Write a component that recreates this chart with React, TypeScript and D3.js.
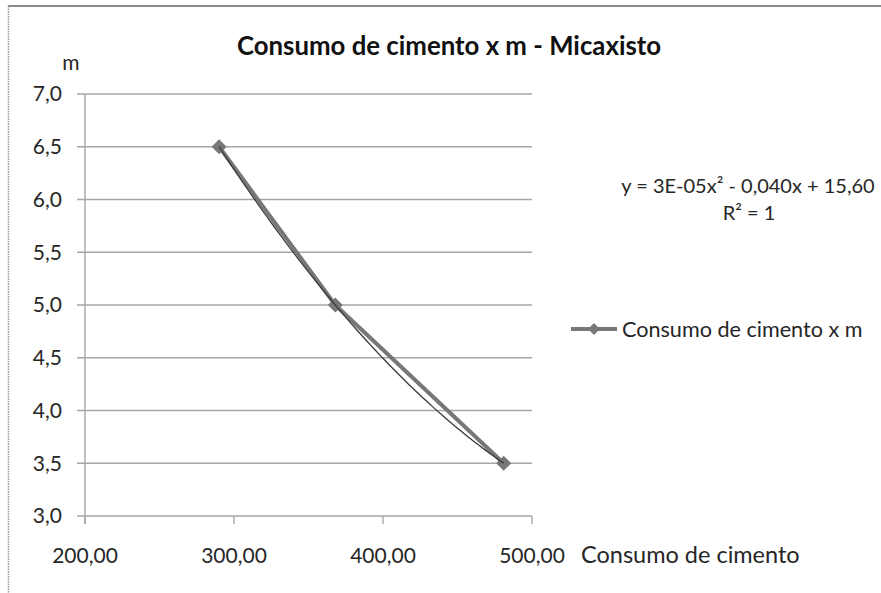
import React from "react";
import * as d3 from "d3";

const cementConsumption = [290, 368, 481];
const mValues = [6.5, 5.0, 3.5];
const xTickValues = [200, 300, 400, 500];
const yTickValues = [3.0, 3.5, 4.0, 4.5, 5.0, 5.5, 6.0, 6.5, 7.0];
const chartTitle = "Consumo de cimento x m - Micaxisto";
const seriesName = "Consumo de cimento x m";
const xAxisTitle = "Consumo de cimento";
const yAxisTitle = "m";
const equationLines = ["y = 3E-05x² - 0,040x + 15,60", "R² = 1"];

const W = 881;
const H = 593;
const FONT = "Lato, 'Open Sans', sans-serif";

export default function App() {
  const x = d3.scaleLinear().domain([200, 500]).range([85, 532]);
  const y = d3.scaleLinear().domain([3, 7]).range([516, 94]);

  const pts = cementConsumption.map((c, i) => [c, mValues[i]] as [number, number]);

  // quadratic trendline through the data (Lagrange form, R² = 1)
  const quad = (v: number) => {
    let s = 0;
    for (let i = 0; i < pts.length; i++) {
      let term = pts[i][1];
      for (let j = 0; j < pts.length; j++) {
        if (j !== i) term *= (v - pts[j][0]) / (pts[i][0] - pts[j][0]);
      }
      s += term;
    }
    return s;
  };
  const xMin = d3.min(cementConsumption) as number;
  const xMax = d3.max(cementConsumption) as number;
  const trendX = d3.range(0, 61).map((k) => xMin + ((xMax - xMin) * k) / 60);
  const trendPath = d3
    .line<number>()
    .x((v) => x(v))
    .y((v) => y(quad(v)))(trendX) as string;

  const seriesPath = d3
    .line<[number, number]>()
    .x((d) => x(d[0]))
    .y((d) => y(d[1]))(pts) as string;

  const fmtY = (v: number) => d3.format(".1f")(v).replace(".", ",");
  const fmtX = (v: number) => d3.format(".2f")(v).replace(".", ",");

  const diamond = (cx: number, cy: number, r: number) =>
    `M${cx},${cy - r}L${cx + r},${cy}L${cx},${cy + r}L${cx - r},${cy}Z`;

  const [x0, x1] = x.range();
  const [yBottom, yTop] = y.range();

  return (
    <svg
      width={W}
      height={H}
      style={{ position: "absolute", left: 0, top: 0, background: "#fff" }}
      fontFamily={FONT}
    >
      <rect x={0} y={0} width={W} height={H} fill="#fff" />
      {/* chart frame */}
      <line x1={8} y1={6} x2={W} y2={6} stroke="#8a8a8a" strokeWidth={2} />
      <line x1={8.5} y1={6} x2={8.5} y2={H} stroke="#9a9a9a" strokeWidth={1.5} strokeDasharray="1.5,1" />

      {/* gridlines */}
      {yTickValues.map((v) => (
        <line key={"g" + v} x1={77} x2={x1} y1={y(v)} y2={y(v)} stroke="#a6a6a6" strokeWidth={1.4} />
      ))}
      {/* y axis */}
      <line x1={x0} x2={x0} y1={yTop} y2={yBottom + 8} stroke="#a6a6a6" strokeWidth={1.4} />
      {/* x ticks */}
      {xTickValues.map((v) => (
        <line key={"t" + v} x1={x(v)} x2={x(v)} y1={yBottom} y2={yBottom + 8} stroke="#a6a6a6" strokeWidth={1.4} />
      ))}

      {/* y tick labels */}
      {yTickValues.map((v) => (
        <text key={"yl" + v} x={62} y={y(v)} dy="0.35em" textAnchor="end" fontSize={21} fill="#262626">
          {fmtY(v)}
        </text>
      ))}
      {/* x tick labels */}
      {xTickValues.map((v) => (
        <text key={"xl" + v} x={x(v)} y={563} textAnchor="middle" fontSize={21} fill="#262626">
          {fmtX(v)}
        </text>
      ))}

      {/* axis titles */}
      <text x={71} y={70} textAnchor="middle" fontSize={21} fill="#262626">
        {yAxisTitle}
      </text>
      <text x={581} y={563} fontSize={23.5} fill="#262626">
        {xAxisTitle}
      </text>

      {/* title */}
      <text x={449} y={55} textAnchor="middle" fontSize={25.8} fontWeight="bold" fill="#111">
        {chartTitle}
      </text>

      {/* series */}
      <path d={seriesPath} fill="none" stroke="#777" strokeWidth={4} strokeLinejoin="round" />
      {pts.map((d, i) => (
        <path key={"m" + i} d={diamond(x(d[0]), y(d[1]), 7.5)} fill="#777" />
      ))}
      {/* trendline */}
      <path d={trendPath} fill="none" stroke="#3a3a3a" strokeWidth={1.3} />

      {/* equation */}
      <text x={748} y={193} textAnchor="middle" fontSize={20} fill="#262626">
        {equationLines[0]}
      </text>
      <text x={749} y={220} textAnchor="middle" fontSize={20} fill="#262626">
        {equationLines[1]}
      </text>

      {/* legend */}
      <line x1={571} x2={617} y1={329} y2={329} stroke="#777" strokeWidth={4} />
      <path d={diamond(594, 329, 6)} fill="#777" />
      <text x={622} y={329} dy="0.35em" fontSize={21.6} fill="#262626">
        {seriesName}
      </text>
    </svg>
  );
}
